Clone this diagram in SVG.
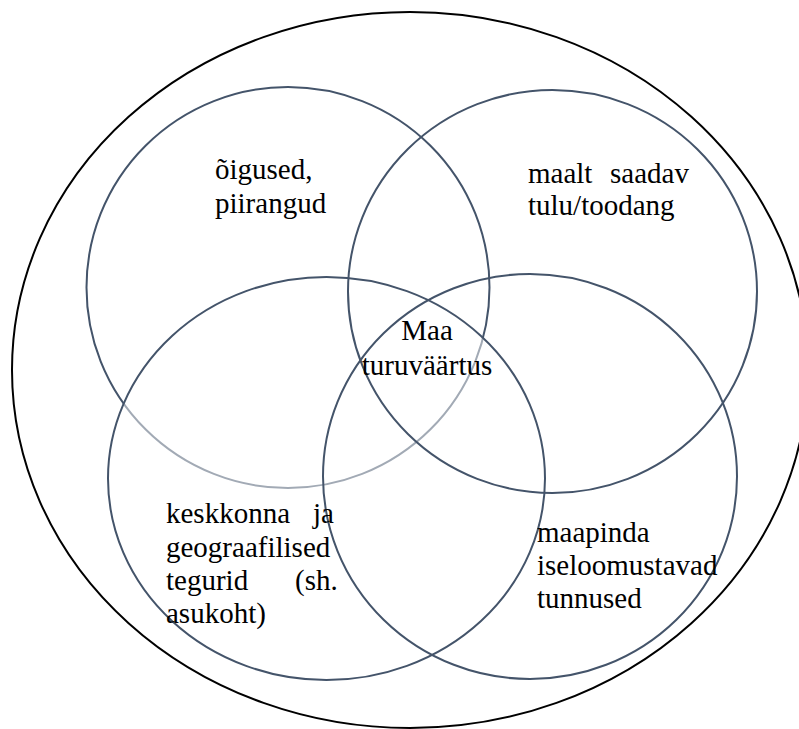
<svg xmlns="http://www.w3.org/2000/svg" width="799" height="729" viewBox="0 0 799 729">
  <style>
    .c { fill: none; stroke: #44546a; stroke-width: 2; }
    .veil { fill: #ffffff; fill-opacity: 0.5; stroke: #44546a; stroke-width: 2; }
    .outer { fill: none; stroke: #000000; stroke-width: 2; }
    text { font-family: "Liberation Serif", "Times New Roman", serif; font-size: 29px; fill: #000000; }
  </style>
  <rect x="0" y="0" width="799" height="729" fill="#ffffff"/>
  <g id="node-oigused">
    <ellipse class="c" cx="288" cy="287.5" rx="201.5" ry="200.5"/>
    <text x="215" y="179">õigused,</text>
    <text x="215" y="213">piirangud</text>
  </g>
  <g id="node-keskkond">
    <ellipse class="veil" cx="326.5" cy="478.5" rx="218.5" ry="201.5"/>
  </g>
  <g id="node-tulu">
    <ellipse class="c" cx="552.5" cy="291.5" rx="204.5" ry="201.5"/>
    <text x="528" y="183">maalt</text>
    <text x="610" y="183">saadav</text>
    <text x="528" y="215">tulu/toodang</text>
  </g>
  <g id="node-maapind">
    <ellipse class="c" cx="530" cy="476.5" rx="207" ry="202.5"/>
  </g>
  <g id="node-outer">
    <ellipse class="outer" cx="410" cy="370" rx="398" ry="358"/>
  </g>
  <g id="labels-keskkond">
    <text x="166" y="523">keskkonna</text>
    <text x="313" y="523">ja</text>
    <text x="166" y="557">geograafilised</text>
    <text x="166" y="590">tegurid</text>
    <text x="295" y="590">(sh.</text>
    <text x="166" y="623">asukoht)</text>
  </g>
  <g id="labels-maapind">
    <text x="537" y="542">maapinda</text>
    <text x="537" y="575">iseloomustavad</text>
    <text x="537" y="608">tunnused</text>
  </g>
  <g id="node-center">
    <text x="427" y="340" text-anchor="middle">Maa</text>
    <text x="427" y="375" text-anchor="middle">turuväärtus</text>
  </g>
</svg>
